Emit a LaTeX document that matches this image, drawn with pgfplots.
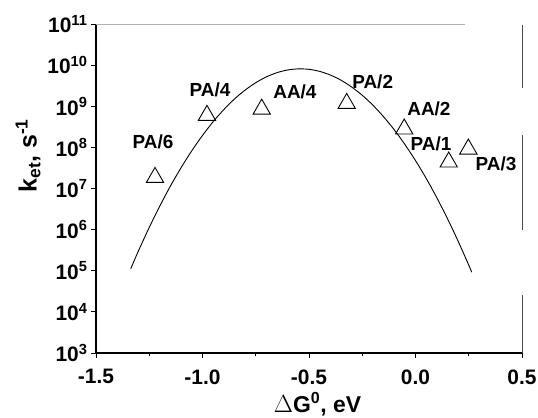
\documentclass[border=0pt]{standalone}
\usepackage{pgfplots}
\pgfplotsset{compat=1.18}
\usepackage{fontspec}
\setmainfont{Liberation Sans}
\begin{document}
\begin{tikzpicture}
\begin{axis}[
 name=ax,
 scale only axis, width=426bp, height=329bp,
 xmin=-1.5, xmax=0.5, ymode=log, ymin=1e3, ymax=1e11,
 axis x line*=bottom, axis y line*=left,
 x axis line style={-, line width=1.1pt},
 y axis line style={-, line width=1.1pt},
 tick align=outside,
 xtick pos=bottom, ytick pos=left,
 major tick length=5bp, minor tick length=3.5bp,
 every tick/.style={black, line width=0.9pt},
 xtick={-1.5,-1,-0.5,0,0.5},
 xticklabels={-1.5,-1.0,-0.5,0.0,0.5},
 minor xtick={-1.25,-0.75,-0.25,0.25},
 ytick={1e3,1e4,1e5,1e6,1e7,1e8,1e9,1e10,1e11},
 yticklabels={10\textsuperscript{3},10\textsuperscript{4},10\textsuperscript{5},10\textsuperscript{6},10\textsuperscript{7},10\textsuperscript{8},10\textsuperscript{9},10\textsuperscript{10},10\textsuperscript{11}},
 yminorticks=false,
 tick label style={font=\bfseries\fontsize{21}{23}\selectfont},
 xticklabel shift=8bp,
 xlabel shift=3bp,
 xlabel={$\Delta$\textbf{G\textsuperscript{0}, eV}},
 xlabel style={font=\bfseries\fontsize{23}{25}\selectfont, at={(ticklabel cs:0.52)}, inner sep=1bp},
 ylabel={\textbf{k\textsubscript{et}, s\textsuperscript{-1}}},
 ylabel style={font=\bfseries\fontsize{25}{27}\selectfont, at={(ticklabel cs:0.6)}},
 clip=false,
]
\addplot[black, line width=0.9pt, smooth] coordinates {
(-1.337,1.12e5) (-1.30,3.10e5) (-1.25,1.13e6) (-1.20,3.78e6) (-1.15,1.16e7)
(-1.10,3.24e7) (-1.05,8.32e7) (-1.00,1.95e8) (-0.95,4.21e8) (-0.90,8.29e8)
(-0.85,1.50e9) (-0.80,2.47e9) (-0.75,3.74e9) (-0.70,5.18e9) (-0.65,6.57e9)
(-0.60,7.63e9) (-0.55,8.11e9) (-0.50,7.90e9) (-0.45,7.05e9) (-0.40,5.75e9)
(-0.35,4.31e9) (-0.30,2.94e9) (-0.25,1.85e9) (-0.20,1.06e9) (-0.15,5.57e8)
(-0.10,2.69e8) (-0.05,1.18e8) (0.00,4.78e7) (0.05,1.77e7) (0.10,5.98e6)
(0.15,1.85e6) (0.20,5.26e5) (0.25,1.37e5) (0.264,9.2e4)
};
\addplot[only marks, mark=triangle, mark size=10bp, mark options={black, line width=0.9pt, fill=white}] coordinates {
(-1.223,1.86e7) (-0.979,6.0e8) (-0.722,8.5e8) (-0.323,1.17e9)
(-0.053,2.8e8) (0.156,4.4e7) (0.248,9.1e7)
};
\begin{scope}[font=\bfseries\fontsize{19}{21}\selectfont]
\node at (axis cs:-1.232,1.35e8) {PA/6};
\node at (axis cs:-0.965,2.5e9) {PA/4};
\node at (axis cs:-0.566,2.24e9) {AA/4};
\node at (axis cs:-0.201,3.9e9) {PA/2};
\node at (axis cs:0.063,8.7e8) {AA/2};
\node at (axis cs:0.073,1.23e8) {PA/1};
\node at (axis cs:0.378,4.0e7) {PA/3};
\end{scope}
\draw[gray!60, line width=0.6pt] (rel axis cs:0,1) -- (rel axis cs:0.866,1);
\draw[black!70, line width=0.7pt] (rel axis cs:1,0.997) -- (rel axis cs:1,0.805);
\draw[black!70, line width=0.7pt] (rel axis cs:1,0.663) -- (rel axis cs:1,0.374);
\draw[black!70, line width=0.7pt] (rel axis cs:1,0.176) -- (rel axis cs:1,0);
\end{axis}
\pgfresetboundingbox
\path ([shift={(-96bp,-65bp)}]ax.south west) rectangle ([shift={(16bp,24bp)}]ax.north east);
\end{tikzpicture}
\end{document}
